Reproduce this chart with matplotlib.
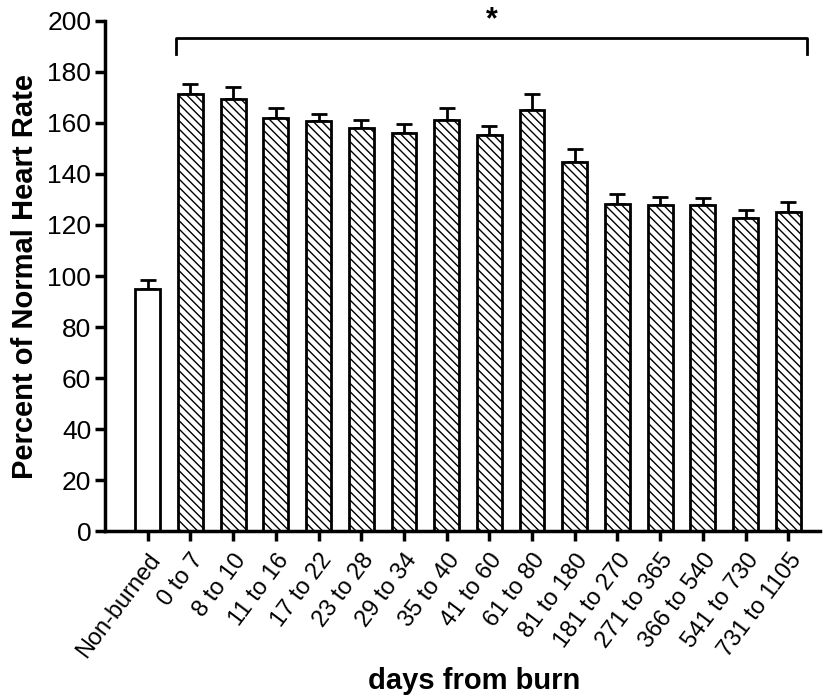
import numpy as np
import matplotlib
matplotlib.use("Agg")
import matplotlib.pyplot as plt

categories = ["Non-burned", "0 to 7", "8 to 10", "11 to 16", "17 to 22", "23 to 28",
              "29 to 34", "35 to 40", "41 to 60", "61 to 80", "81 to 180", "181 to 270",
              "271 to 365", "366 to 540", "541 to 730", "731 to 1105"]
means = [94.8, 171.2, 169.3, 161.8, 160.7, 158.0, 155.9, 161.1, 155.4, 165.0,
         144.7, 128.2, 128.0, 127.7, 122.6, 125.2]
upper = [98.5, 175.2, 174.0, 165.7, 163.5, 161.1, 159.6, 165.7, 158.8, 171.2,
         149.6, 132.0, 131.1, 130.5, 125.8, 129.1]
sem = [u - m for u, m in zip(upper, means)]

plt.rcParams.update({
    "font.family": ["Liberation Sans", "DejaVu Sans"],
    "hatch.linewidth": 1.0,
})

fig = plt.figure(figsize=(8.25, 6.96), dpi=100)
ax = fig.add_axes([0.1273, 0.2364, 0.867, 0.734])

x = np.arange(len(categories))
hatches = [""] + ["\\\\\\\\"] * (len(categories) - 1)
for xi, m, h in zip(x, means, hatches):
    ax.bar(xi, m, width=0.58, color="white", edgecolor="black",
           linewidth=2.0, hatch=h, zorder=2)
ax.errorbar(x, means, yerr=[np.zeros(len(sem)), sem], fmt="none",
            ecolor="black", elinewidth=2.0, capsize=6, capthick=2.0, zorder=1)

# significance bracket
bx0, bx1, by, bdrop = 0.67, 15.45, 193.1, 186.8
ax.plot([bx0, bx0, bx1, bx1], [bdrop, by, by, bdrop], color="black",
        lw=2.0, clip_on=False)
ax.text((bx0 + bx1) / 2, by + 1.0, "*", ha="center", va="bottom",
        fontsize=22, fontweight="bold")

ax.set_xlim(-1, 15.75)
ax.set_ylim(0, 200)
ax.set_yticks(np.arange(0, 201, 20))
ax.set_xticks(x)
ax.set_xticklabels(categories, rotation=53, ha="right", rotation_mode="anchor",
                   fontsize=17)
ax.tick_params(axis="y", labelsize=19, length=7, width=2.5, direction="out", pad=3)
ax.tick_params(axis="x", length=7, width=2.5, direction="out", pad=6)

for s in ["top", "right"]:
    ax.spines[s].set_visible(False)
for s in ["left", "bottom"]:
    ax.spines[s].set_linewidth(2.5)

ax.set_ylabel("Percent of Normal Heart Rate", fontsize=21, fontweight="bold",
              labelpad=6)
ax.set_xlabel("days from burn", fontsize=21, fontweight="bold")
ax.xaxis.set_label_coords(0.516, -0.265)

fig.savefig("out.png", dpi=100)
